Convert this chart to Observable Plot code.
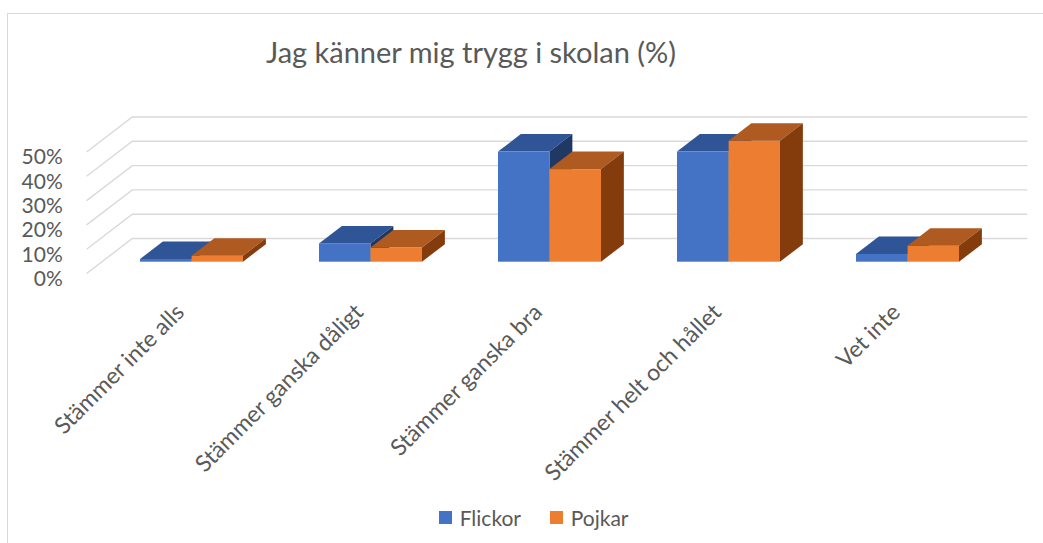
<!DOCTYPE html>
<html>
<head>
<meta charset="utf-8">
<script src="https://cdn.jsdelivr.net/npm/d3@7"></script>
<script src="https://cdn.jsdelivr.net/npm/@observablehq/plot@0.6"></script>
<style>
  html, body { margin: 0; padding: 0; background: #ffffff; }
  body { width: 1043px; height: 543px; overflow: hidden; position: relative; font-family: Lato, "Open Sans", sans-serif; color: #595959; }
  #frame { position: absolute; left: 7px; top: 13px; width: 1100px; height: 600px; border: 1.5px solid #d9d9d9; box-sizing: border-box; pointer-events: none; }
  #title { height: 90px; box-sizing: border-box; padding-top: 34px; width: 942px; text-align: center; font-size: 29px; font-weight: normal; line-height: normal; margin: 0; }
  #chart { height: 400px; }
  #chart svg { overflow: visible; }
  #legend { height: 53px; box-sizing: border-box; padding-top: 15px; padding-left: 439px; }
  #legend .row { display: flex; align-items: center; height: 25px; font-size: 21px; }
  #legend .sw { width: 13.4px; height: 13.4px; margin-right: 7.3px; }
  #legend .item { display: flex; align-items: center; margin-right: 29px; }
</style>
</head>
<body>
<div id="frame"></div>
<div id="title">Jag känner mig trygg i skolan (%)</div>
<div id="chart"></div>
<div id="legend"></div>
<script>
// ---- data ----
const categories = ["Stämmer inte alls", "Stämmer ganska dåligt", "Stämmer ganska bra", "Stämmer helt och hållet", "Vet inte"];
const series = ["Flickor", "Pojkar"];
const flickor = [1.1, 7.5, 45.3, 45.3, 3.2];
const pojkar = [2.5, 5.8, 38.1, 49.8, 6.6];
const yTicks = [0, 10, 20, 30, 40, 50];

// ---- style ----
const frontColor = {Flickor: "#4472c4", Pojkar: "#ed7d31"};
const topColor = {Flickor: "#2f5597", Pojkar: "#ae5a21"};
const sideColor = {Flickor: "#203864", Pojkar: "#843c0c"};
const gridColor = "#d9d9d9";
const textColor = "#595959";
const W = 1043, H = 400;
const ML = 102, MR = 46, MT = 50.2, MB = 228.3;
const padInner = 0.423, padOuter = padInner / 2;
const step = (W - ML - MR) / categories.length;
const bw = step * (1 - padInner);
// 3D depth vectors (pixels), relative to the bar front plane
const barDepth = [22.85, -17.5];
const floorFront = [-15.4, 11.8];
const wallBack = [30.3, -23.2];

const rows = {
  Flickor: categories.map((c, i) => ({cat: c, value: flickor[i], series: "Flickor"})),
  Pojkar: categories.map((c, i) => ({cat: c, value: pojkar[i], series: "Pojkar"}))
};

function grid3d(index, scales, values, dimensions) {
  const y = scales.y;
  const x0 = dimensions.marginLeft, x1 = dimensions.width - dimensions.marginRight;
  const g = d3.create("svg:g").attr("fill", "none").attr("stroke", gridColor).attr("stroke-width", 1.4);
  for (const t of yTicks) {
    const yy = y(t);
    g.append("path").attr("d",
      `M${x0 + floorFront[0]},${yy + floorFront[1]}L${x0 + wallBack[0]},${yy + wallBack[1]}H${x1 + wallBack[0]}`);
  }
  return g.node();
}

function faces(name) {
  return (index, scales) => {
    const x = scales.x, y = scales.y;
    const band = typeof x.bandwidth === "function" ? x.bandwidth() : bw;
    const half = band / 2;
    const g = d3.create("svg:g");
    for (const d of rows[name]) {
      const xl = x(d.cat) + (name === "Flickor" ? 0 : half);
      const xr = xl + half;
      const yt = y(d.value), y0 = y(0);
      const [dx, dy] = barDepth;
      g.append("path").attr("fill", topColor[name])
        .attr("d", `M${xl},${yt}L${xl + dx},${yt + dy}L${xr + dx},${yt + dy}L${xr},${yt}Z`);
      g.append("path").attr("fill", sideColor[name])
        .attr("d", `M${xr},${yt}L${xr + dx},${yt + dy}L${xr + dx},${y0 + dy}L${xr},${y0}Z`);
    }
    return g.node();
  };
}

const chart = Plot.plot({
  width: W,
  height: H,
  marginLeft: ML,
  marginRight: MR,
  marginTop: MT,
  marginBottom: MB,
  x: {domain: categories, paddingInner: padInner, paddingOuter: padOuter, axis: null},
  y: {domain: [0, 50], axis: null},
  style: {fontFamily: "Lato, 'Open Sans', sans-serif", color: textColor, background: "transparent", overflow: "visible"},
  marks: [
    grid3d,
    Plot.barY(rows.Flickor, {x: "cat", y: "value", fill: frontColor.Flickor, insetRight: bw / 2}),
    faces("Flickor"),
    Plot.barY(rows.Pojkar, {x: "cat", y: "value", fill: frontColor.Pojkar, insetLeft: bw / 2}),
    faces("Pojkar"),
    Plot.text(yTicks, {y: d => d, text: d => `${d}%`, frameAnchor: "left", textAnchor: "end", dx: -39.7, dy: 17, fontSize: 21, fill: textColor}),
    Plot.text(categories, {x: d => d, text: d => d, frameAnchor: "bottom", rotate: -45, textAnchor: "end", lineAnchor: "top", dx: -18, dy: 40, fontSize: 23, fill: textColor})
  ]
});
document.getElementById("chart").appendChild(chart);

// legend
const row = d3.select("#legend").append("div").attr("class", "row");
for (const s of series) {
  const it = row.append("div").attr("class", "item");
  it.append("div").attr("class", "sw").style("background", frontColor[s]);
  it.append("span").text(s);
}
</script>
</body>
</html>
